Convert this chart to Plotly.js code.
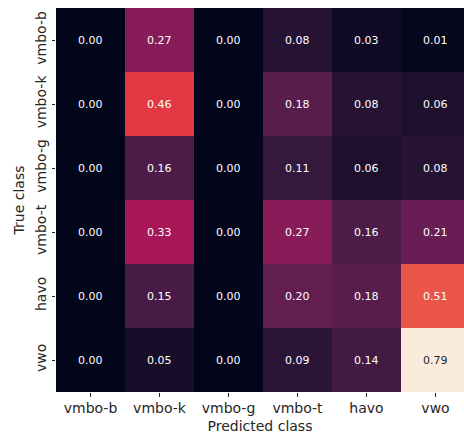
<!DOCTYPE html>
<html>
<head>
<meta charset="utf-8">
<script src="https://cdn.plot.ly/plotly-3.0.1.min.js"></script>
<style>html,body{margin:0;padding:0;background:#fff;overflow:hidden}</style>
</head>
<body>
<div id="chart" style="width:464px;height:439px"></div>
<script>
const predictedClasses = ["vmbo-b", "vmbo-k", "vmbo-g", "vmbo-t", "havo", "vwo"];
const trueClasses = ["vmbo-b", "vmbo-k", "vmbo-g", "vmbo-t", "havo", "vwo"];
const row_vmbo_b = [0.00, 0.27, 0.00, 0.08, 0.03, 0.01];
const row_vmbo_k = [0.00, 0.46, 0.00, 0.18, 0.08, 0.06];
const row_vmbo_g = [0.00, 0.16, 0.00, 0.11, 0.06, 0.08];
const row_vmbo_t = [0.00, 0.33, 0.00, 0.27, 0.16, 0.21];
const row_havo   = [0.00, 0.15, 0.00, 0.20, 0.18, 0.51];
const row_vwo    = [0.00, 0.05, 0.00, 0.09, 0.14, 0.79];
const z = [row_vmbo_b, row_vmbo_k, row_vmbo_g, row_vmbo_t, row_havo, row_vwo];

const rocket = [
  [0.0, "#03051A"], [1/7, "#35193e"], [2/7, "#701f57"], [3/7, "#ad1759"],
  [4/7, "#e13342"], [5/7, "#f37651"], [6/7, "#f6b48f"], [1.0, "#FAEBDD"]
];
const zmax = Math.max(...z.flat());

const annotations = [];
z.forEach((row, i) => row.forEach((v, j) => {
  annotations.push({
    x: predictedClasses[j], y: trueClasses[i], xref: "x", yref: "y",
    text: v.toFixed(2), showarrow: false,
    font: {family: "DejaVu Sans", size: 11, color: (v / zmax > 0.8) ? "#262626" : "#ffffff"}
  });
}));

const data = [{
  type: "heatmap", x: predictedClasses, y: trueClasses, z: z,
  colorscale: rocket, zmin: 0, zmax: zmax, showscale: false, xgap: 0, ygap: 0,
  hoverinfo: "skip"
}];

const layout = {
  width: 464, height: 439,
  margin: {l: 56, r: 0, t: 8, b: 47},
  paper_bgcolor: "#fff", plot_bgcolor: "#fff",
  font: {family: "DejaVu Sans", size: 14, color: "#262626"},
  xaxis: {
    type: "category", range: [-0.5, 5.5 - 6/69], showgrid: false, zeroline: false,
    ticks: "outside", ticklen: 3.5, tickwidth: 1, tickcolor: "#262626",
    tickfont: {family: "DejaVu Sans", size: 14, color: "#262626"},
    title: {text: "Predicted class", font: {family: "DejaVu Sans", size: 14, color: "#262626"}, standoff: 5},
    showline: false, fixedrange: true
  },
  yaxis: {
    type: "category", autorange: "reversed", showgrid: false, zeroline: false,
    ticks: "outside", ticklen: 3.5, tickwidth: 1, tickcolor: "#262626", tickangle: -90,
    tickfont: {family: "DejaVu Sans", size: 14, color: "#262626"},
    title: {text: "True class", font: {family: "DejaVu Sans", size: 14, color: "#262626"}, standoff: 5},
    showline: false, fixedrange: true
  },
  annotations: annotations
};

Plotly.newPlot("chart", data, layout, {staticPlot: true, displayModeBar: false});
</script>
</body>
</html>
